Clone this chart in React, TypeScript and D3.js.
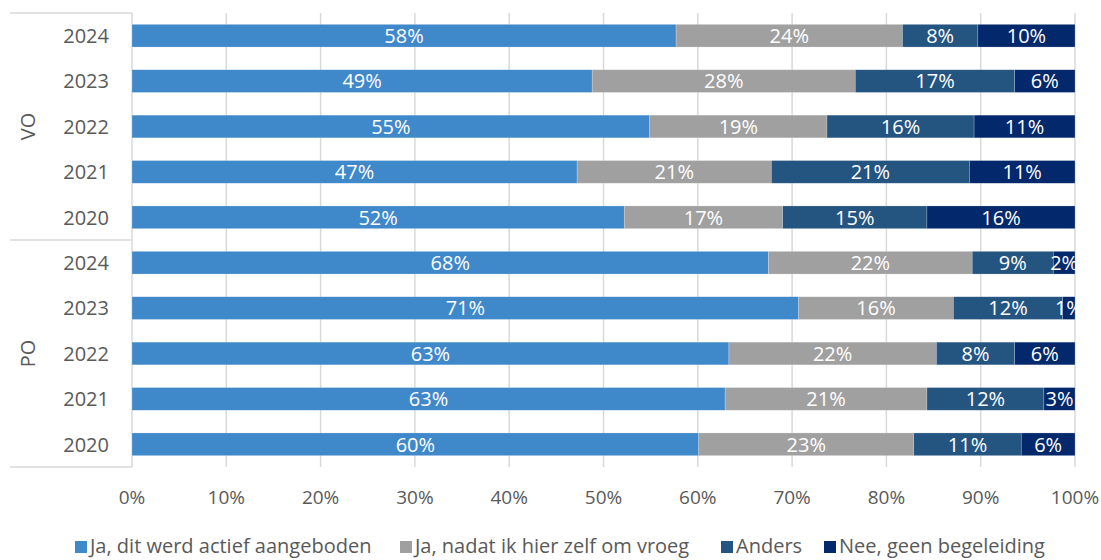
import React from "react";
import * as d3 from "d3";

// rows top to bottom
const groups = ["VO", "PO"];
const years = ["2024", "2023", "2022", "2021", "2020"];

const seriesNames = [
  "Ja, dit werd actief aangeboden",
  "Ja, nadat ik hier zelf om vroeg",
  "Anders",
  "Nee, geen begeleiding",
];
const colors = ["#3f88ca", "#a0a0a0", "#245581", "#03286b"];

// share per row (in %), same order as groups x years
const actief = [57.7, 48.8, 54.9, 47.2, 52.2, 67.5, 70.7, 63.3, 62.9, 60.1];
const zelf = [24.0, 27.9, 18.8, 20.6, 16.8, 21.6, 16.4, 22.0, 21.4, 22.8];
const anders = [8.0, 16.9, 15.6, 21.0, 15.3, 8.6, 11.6, 8.3, 12.4, 11.4];
const geen = [10.3, 6.4, 10.7, 11.2, 15.7, 2.3, 1.3, 6.4, 3.3, 5.7];

const xTicks = [0, 10, 20, 30, 40, 50, 60, 70, 80, 90, 100];

const W = 1101;
const H = 560;
const left = 132;
const right = 1075;
const top = 13;
const bottom = 467;
const labelX = 10;
const font = "'Open Sans', 'Noto Sans', sans-serif";
const textColor = "#595959";

export default function App() {
  const rows = groups.flatMap((g) => years.map((y) => `${g}-${y}`));
  const table = rows.map((key, i) => ({
    key,
    year: key.split("-")[1],
    s0: actief[i],
    s1: zelf[i],
    s2: anders[i],
    s3: geen[i],
  }));

  const stack = d3.stack().keys(["s0", "s1", "s2", "s3"]);
  const stacked = stack(table as any);

  const x = d3.scaleLinear().domain([0, 100]).range([left, right]);
  const y = d3
    .scaleBand()
    .domain(rows)
    .range([top, bottom])
    .paddingInner(0.5)
    .paddingOuter(0.25);

  const step = y.step();
  const groupEdges = groups.map((g, gi) => top + gi * years.length * step);

  // legend item x positions
  const legendX = [75, 400, 721, 824];

  return (
    <svg
      width={W}
      height={H}
      style={{ position: "absolute", left: 0, top: 0, display: "block" }}
      fontFamily={font}
    >
      <rect width={W} height={H} fill="#fff" />

      {/* grid */}
      {xTicks.slice(1).map((t) => (
        <line
          key={t}
          x1={x(t)}
          x2={x(t)}
          y1={top}
          y2={bottom}
          stroke="#d9d9d9"
          strokeWidth={1.5}
        />
      ))}

      {/* category axis frame */}
      <g stroke="#d9d9d9" strokeWidth={1.5}>
        <line x1={left} x2={left} y1={top} y2={bottom} />
        {[...groupEdges, bottom].map((e, i) => (
          <line key={i} x1={labelX} x2={left} y1={e} y2={e} />
        ))}
      </g>

      {/* bars */}
      {stacked.map((layer, li) => (
        <g key={li} fill={colors[li]}>
          {layer.map((d: any, i) => (
            <rect
              key={i}
              x={x(d[0])}
              y={y(rows[i])}
              width={x(d[1]) - x(d[0])}
              height={y.bandwidth()}
              stroke="#fff"
              strokeOpacity={0.35}
              strokeWidth={0.6}
            />
          ))}
        </g>
      ))}

      {/* data labels */}
      {stacked.map((layer, li) => (
        <g key={"l" + li} fill="#fff" fontSize={20} textAnchor="middle">
          {layer.map((d: any, i) => (
            <text
              key={i}
              x={(x(d[0]) + x(d[1])) / 2}
              y={(y(rows[i]) as number) + y.bandwidth() / 2}
              dy="0.36em"
            >
              {Math.round(d[1] - d[0])}%
            </text>
          ))}
        </g>
      ))}

      {/* year labels */}
      <g fill={textColor} fontSize={20} textAnchor="end">
        {table.map((d) => (
          <text
            key={d.key}
            x={left - 23}
            y={(y(d.key) as number) + y.bandwidth() / 2}
            dy="0.36em"
          >
            {d.year}
          </text>
        ))}
      </g>

      {/* group labels */}
      <g fill={textColor} fontSize={20} textAnchor="middle">
        {groups.map((g, gi) => {
          const cy = groupEdges[gi] + (years.length * step) / 2;
          return (
            <text key={g} transform={`translate(35,${cy}) rotate(-90)`}>
              {g}
            </text>
          );
        })}
      </g>

      {/* x axis labels */}
      <g fill={textColor} fontSize={19} textAnchor="middle">
        {xTicks.map((t) => (
          <text key={t} x={x(t)} y={497} dy="0.36em">
            {d3.format(".0%")(t / 100)}
          </text>
        ))}
      </g>

      {/* legend */}
      <g fontSize={20} fill={textColor}>
        {seriesNames.map((n, i) => (
          <g key={n} transform={`translate(${legendX[i]},0)`}>
            <rect x={0} y={541} width={12} height={12} fill={colors[i]} />
            <text x={15} y={546} dy="0.36em">
              {n}
            </text>
          </g>
        ))}
      </g>
    </svg>
  );
}
